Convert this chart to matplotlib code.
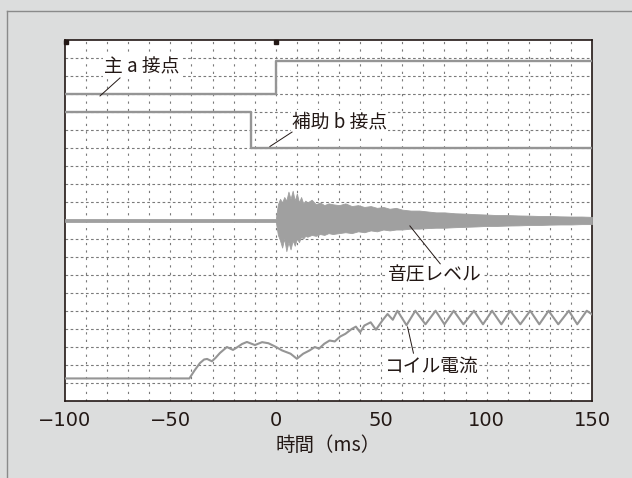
import matplotlib
matplotlib.use("Agg")
import matplotlib.pyplot as plt
from matplotlib.lines import Line2D
import numpy as np

plt.rcParams['font.family'] = ['Noto Sans CJK JP', 'DejaVu Sans']

# ---------------- data (y in grid divisions, 0=bottom, 20=top) -------------
x_ticks = [-100, -50, 0, 50, 100, 150]
x_tick_labels = ['\u2212100', '\u221250', '0', '50', '100', '150']

main_a_t = [-100, 0, 0, 150]
main_a_v = [17.0, 17.0, 18.85, 18.85]

aux_b_t = [-100, -12, -12, 150]
aux_b_v = [16.0, 16.0, 14.0, 14.0]

sound_base = 10.0
sound_t = [-100, 0, 1, 2, 3, 4, 5, 6, 7, 8, 9, 10, 11, 12, 13, 14, 15, 17, 19, 21, 23, 25,
           27, 30, 33, 36, 39, 42, 45, 48, 51, 54, 57, 60, 64, 68, 72, 76, 80, 85, 90, 95,
           100, 105, 110, 115, 120, 125, 130, 135, 140, 145, 150]
sound_up = [0.08, 0.08, 0.9, 1.2, 1.0, 1.3, 1.1, 1.6, 1.2, 1.65, 1.1, 1.5, 1.0, 1.3, 0.95, 1.1,
            1.0, 1.15, 0.9, 1.0, 0.85, 0.95, 0.9, 0.85, 0.95, 0.8, 0.85, 0.75, 0.8, 0.7, 0.75,
            0.65, 0.7, 0.6, 0.55, 0.55, 0.5, 0.45, 0.45, 0.4, 0.38, 0.35, 0.33, 0.3, 0.3, 0.28,
            0.27, 0.25, 0.25, 0.23, 0.22, 0.22, 0.2]
sound_dn = [0.08, 0.08, 0.8, 1.1, 1.5, 1.0, 1.7, 1.2, 1.6, 1.1, 1.4, 1.0, 1.2, 0.9, 1.0, 0.85,
            0.9, 0.8, 0.85, 0.75, 0.8, 0.7, 0.75, 0.7, 0.65, 0.7, 0.6, 0.65, 0.55, 0.6, 0.5,
            0.55, 0.5, 0.5, 0.45, 0.45, 0.42, 0.4, 0.4, 0.37, 0.35, 0.33, 0.3, 0.3, 0.28, 0.27,
            0.25, 0.25, 0.23, 0.22, 0.22, 0.2, 0.2]

coil_t = [-100, -41, -38.5, -36, -34, -32.6, -30.3, -28.5, -26.5, -23.2, -20.3, -18, -16,
          -13.7, -9.9, -6.5, -3.5, 0, 3, 7, 10, 13, 16, 18.5, 20.5, 23, 25.5, 28, 30.5, 33,
          36, 38, 40, 42, 45, 47.5, 50.5, 53, 55.5, 57.7, 62, 66.2, 71, 75.8, 80, 84.4, 89,
          94, 98.3, 102.6, 107, 111.2, 116, 120.7, 125, 129.4, 134, 139, 143, 147.5, 150]
coil_v = [1.25, 1.25, 1.7, 2.1, 2.3, 2.33, 2.2, 2.4, 2.66, 2.99, 2.83, 3.0, 3.16, 3.27, 3.1,
          3.26, 3.2, 3.0, 2.8, 2.62, 2.34, 2.62, 2.8, 2.99, 2.9, 3.17, 3.35, 3.3, 3.57, 3.72,
          3.99, 4.12, 3.81, 4.18, 4.36, 3.95, 4.45, 4.82, 4.5, 5.0, 4.2, 5.0, 4.25, 5.0, 4.25,
          5.0, 4.25, 5.0, 4.25, 5.0, 4.25, 5.0, 4.25, 5.0, 4.25, 5.0, 4.25, 5.0, 4.25, 5.0, 4.8]

labels = ['主 a 接点', '補助 b 接点', '音圧レベル', 'コイル電流']
x_label = '時間（ms）'

# ---------------- figure ----------------
W, H = 632, 478
fig = plt.figure(figsize=(W / 100, H / 100), dpi=100)
fig.patch.set_facecolor('#dcdddd')

# outer panel border (top & left visible)
fig.add_artist(Line2D([7 / W, 1], [1 - 11 / H, 1 - 11 / H], color='#8a8a8a', lw=1.0))
fig.add_artist(Line2D([7 / W, 7 / W], [0, 1 - 11 / H], color='#8a8a8a', lw=1.0))

ax = fig.add_axes([65 / W, 1 - 401 / H, 527 / W, 361 / H])
ax.set_facecolor('white')
ax.set_xlim(-100, 150)
ax.set_ylim(0, 20)

gc = '#7a7a7a'
for v in range(1, 20):
    ax.axhline(v, color=gc, lw=0.8, ls=(0, (2.4, 2.2)), zorder=1)
for t in range(-90, 150, 10):
    ax.axvline(t, color=gc, lw=0.8, ls=(0, (2.0, 4.7)), zorder=1)

sig = '#959595'
ax.plot(main_a_t, main_a_v, color=sig, lw=1.7, zorder=3)
ax.plot(aux_b_t, aux_b_v, color=sig, lw=1.7, zorder=3)

st = np.array(sound_t, dtype=float)
ax.fill_between(st, sound_base - np.array(sound_dn), sound_base + np.array(sound_up),
                color='#a0a0a0', lw=0.6, zorder=3)
ax.plot(coil_t, coil_v, color=sig, lw=1.5, zorder=3)

# small trigger marks at top edge
ax.plot([-99.6, 0.3], [19.9, 19.9], ls='none', marker='s', ms=2.2, color='#231815',
        clip_on=False, zorder=7)

tc = '#231815'
bbox = dict(facecolor='white', edgecolor='none', pad=1.0)
fs = 13.5
ax.text(-81.5, 18.5, labels[0], fontsize=fs, color=tc, va='center', ha='left', bbox=bbox, zorder=5)
ax.plot([-73.9, -83.4], [17.9, 16.9], color=tc, lw=0.7, zorder=6)
ax.text(7.7, 15.45, labels[1], fontsize=fs, color=tc, va='center', ha='left', bbox=bbox, zorder=5)
ax.plot([7.7, -2.8], [14.9, 14.1], color=tc, lw=0.7, zorder=6)
ax.text(53, 7.0, labels[2], fontsize=fs, color=tc, va='center', ha='left', bbox=bbox, zorder=5)
ax.plot([63.6, 78], [9.7, 7.6], color=tc, lw=0.7, zorder=6)
ax.text(51.5, 1.95, labels[3], fontsize=fs, color=tc, va='center', ha='left', bbox=bbox, zorder=5)
ax.plot([62.5, 65.3], [4.1, 2.65], color=tc, lw=0.7, zorder=6)

ax.set_xticks(x_ticks)
ax.set_xticklabels(x_tick_labels, fontsize=14, color=tc, family='DejaVu Sans')
ax.set_yticks([])
ax.tick_params(axis='x', length=0, pad=7)
ax.set_xlabel(x_label, fontsize=14, color=tc, labelpad=4)
for s in ax.spines.values():
    s.set_color(tc)
    s.set_linewidth(1.2)

fig.savefig('out.png', dpi=100, facecolor=fig.get_facecolor())
